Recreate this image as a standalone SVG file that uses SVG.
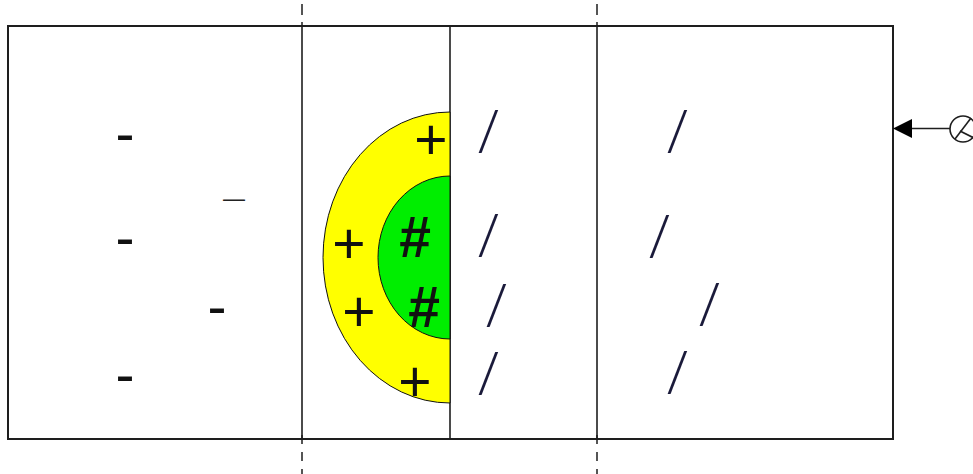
<svg xmlns="http://www.w3.org/2000/svg" width="973" height="474" viewBox="0 0 973 474">
<style>
.ln{stroke:#1e1e1e;fill:none}
.dash{stroke:#1e1e1e;stroke-width:1.5;fill:none}
.t{font-family:"Liberation Sans",Arial,sans-serif;font-size:57px;fill:#111;text-anchor:middle}
.h{font-family:"Liberation Sans",Arial,sans-serif;font-size:57px;font-weight:bold;fill:#111;text-anchor:middle}
.sl{font-family:Roboto,"Liberation Sans",sans-serif;font-weight:300;font-size:56px;fill:#1a1a3a;text-anchor:middle}
</style>
<rect width="973" height="474" fill="#fff"/>
<g id="frame">
<rect class="ln" x="8" y="26" width="885" height="413" stroke-width="2"/>
</g>
<g id="dividers">
<line class="ln" x1="302" y1="26" x2="302" y2="439" stroke-width="1.6"/>
<line class="ln" x1="450" y1="26" x2="450" y2="439" stroke-width="1.6"/>
<line class="ln" x1="597" y1="26" x2="597" y2="439" stroke-width="1.6"/>
<line class="dash" x1="302" y1="4" x2="302" y2="26" stroke-dasharray="11 7"/>
<line class="dash" x1="597" y1="4" x2="597" y2="26" stroke-dasharray="11 7"/>
<line class="dash" x1="302" y1="435" x2="302" y2="474" stroke-dasharray="9 8"/>
<line class="dash" x1="597" y1="435" x2="597" y2="474" stroke-dasharray="9 8"/>
</g>
<g id="outer-zone">
<path d="M450,112 A127,145.5 0 0 0 450,403 Z" fill="#ffff00" stroke="#111" stroke-width="1"/>
</g>
<g id="inner-zone">
<path d="M450,176 A72,81.5 0 0 0 450,339 Z" fill="#00ee00" stroke="#111" stroke-width="1"/>
</g>
<g id="minus-labels">
<text class="t" x="125" y="153">-</text>
<text class="t" x="125" y="257">-</text>
<text class="t" x="217" y="326">-</text>
<text class="t" x="125" y="394">-</text>
<text x="234" y="206" font-family="Liberation Sans, Arial, sans-serif" font-size="22" fill="#222" text-anchor="middle">—</text>
</g>
<g id="plus-labels">
<text class="t" x="431" y="159">+</text>
<text class="t" x="349" y="263">+</text>
<text class="t" x="359" y="331">+</text>
<text class="t" x="415" y="401">+</text>
</g>
<g id="hash-labels">
<text class="h" x="415" y="257">#</text>
<text class="h" x="424" y="327">#</text>
</g>
<g id="slash-labels">
<text class="sl" x="489" y="150">/</text>
<text class="sl" x="489" y="254">/</text>
<text class="sl" x="497" y="324">/</text>
<text class="sl" x="489" y="392">/</text>
<text class="sl" x="678" y="150">/</text>
<text class="sl" x="660" y="255">/</text>
<text class="sl" x="710" y="323">/</text>
<text class="sl" x="678" y="391">/</text>
</g>
<g id="source">
<circle cx="963" cy="129" r="13" fill="#fff" stroke="#1e1e1e" stroke-width="1.6"/>
<line x1="955" y1="139" x2="971" y2="118" stroke="#1e1e1e" stroke-width="1.6"/>
<line x1="960" y1="131" x2="974" y2="138" stroke="#1e1e1e" stroke-width="1.6"/>
</g>
<g id="connectors">
<line x1="950" y1="128.5" x2="910" y2="128.5" stroke="#1e1e1e" stroke-width="1.6"/>
<polygon points="893,128.5 912,119 912,138" fill="#000"/>
</g>
</svg>
